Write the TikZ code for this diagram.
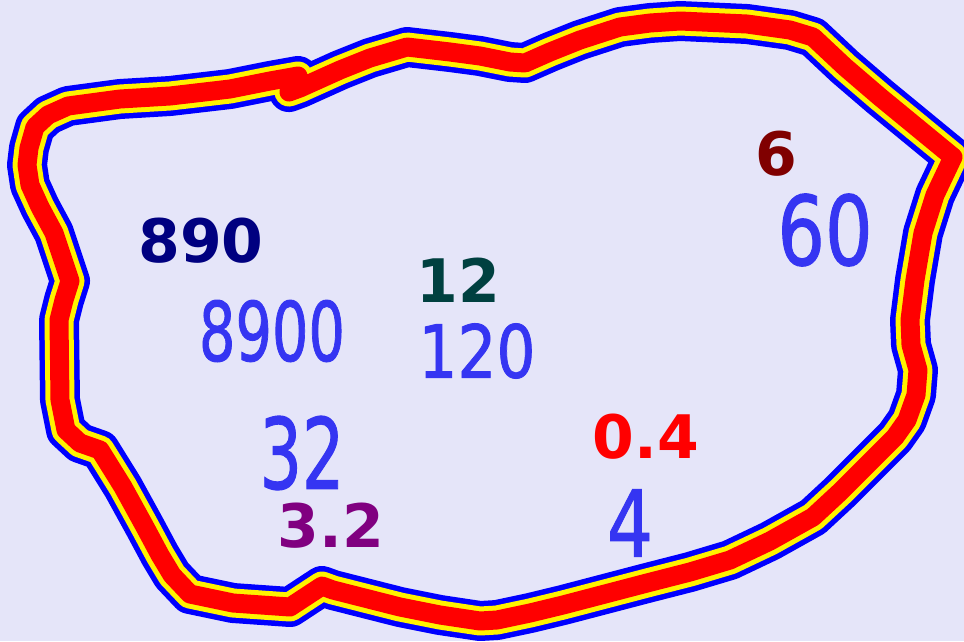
\documentclass[tikz,border=0pt]{standalone}
\usepackage{fontspec}
\usepackage{graphicx}
\newfontfamily\boldnum{DejaVu Sans}[BoldFont={DejaVu Sans Bold}]
\newfontfamily\hand{DejaVu Sans ExtraLight}[FakeBold=1.2]
\definecolor{bgc}{HTML}{E5E5F9}
\definecolor{handc}{HTML}{3535F2}
\definecolor{tealnum}{HTML}{004040}
\tikzset{
  bignum/.style={inner sep=0pt, anchor=center, font=\boldnum\bfseries\fontsize{60}{60}\selectfont},
  handnum/.style={inner sep=0pt, anchor=center, text=handc},
  ring/.style={line join=round, line cap=round}
}
\newcommand{\hw}[3]{\scalebox{#1}[1]{\fontsize{#2}{#2}\selectfont\hand\bfseries #3}}
\begin{document}
\begin{tikzpicture}[x=1pt,y=-1pt]
\fill[bgc] (0,0) rectangle (964,641);
\useasboundingbox (0,0) rectangle (964,641);
\def\outline{(59,320) -- (64,300) -- (70,281) -- (54,233) -- (40,207) -- (30,185) -- (27,165) -- (29,148) -- (35,127) -- (48,115) -- (68,106) -- (120,99) -- (170,96) -- (230,89) -- (270,81) -- (298,76) -- (289,92) -- (300,88) -- (340,70) -- (370,58) -- (407,47) -- (450,52) -- (480,56) -- (510,62) -- (525,63) -- (550,52) -- (580,40) -- (620,27) -- (650,23) -- (680,21) -- (747,24) -- (790,30) -- (813,37) -- (845,67) -- (880,97) -- (953,157) -- (935,195) -- (923,233) -- (915,280) -- (910,320) -- (911,345) -- (918,370) -- (916,395) -- (907,420) -- (895,437) -- (862,470) -- (840,492) -- (813,517) -- (770,541) -- (730,560) -- (690,572) -- (647,583) -- (563,605) -- (530,613) -- (497,620) -- (480,621) -- (440,615) -- (400,607) -- (333,590) -- (322,586) -- (290,607) -- (233,603) -- (190,594) -- (172,575) -- (160,555) -- (145,527) -- (123,487) -- (100,450) -- (80,443) -- (66,430) -- (60,400) -- cycle}
\draw[ring, blue, line width=40pt] \outline;
\draw[ring, yellow, line width=29pt] \outline;
\draw[ring, red, line width=19pt] \outline;
\node[bignum, text={rgb,255:red,0;green,0;blue,128}] (n890) at (201,241) {890};
\node[bignum, text=tealnum] (n12) at (458,280) {12};
\node[bignum, text={rgb,255:red,128;green,0;blue,0}] (n6) at (776,154) {6};
\node[bignum, text=red] (n04) at (646,437) {0.4};
\node[bignum, text={rgb,255:red,128;green,0;blue,128}] (n32) at (331,526) {3.2};
\node[handnum] (h8900) at (272,331) {\hw{0.7}{82}{8900}};
\node[handnum] (h120) at (477,351) {\hw{0.84}{73}{120}};
\node[handnum] (h60) at (825,230) {\hw{0.78}{96}{60}};
\node[handnum] (h32) at (302,453) {\hw{0.68}{98}{32}};
\node[handnum] (h4) at (630,523) {\hw{0.79}{92}{4}};
\end{tikzpicture}
\end{document}
